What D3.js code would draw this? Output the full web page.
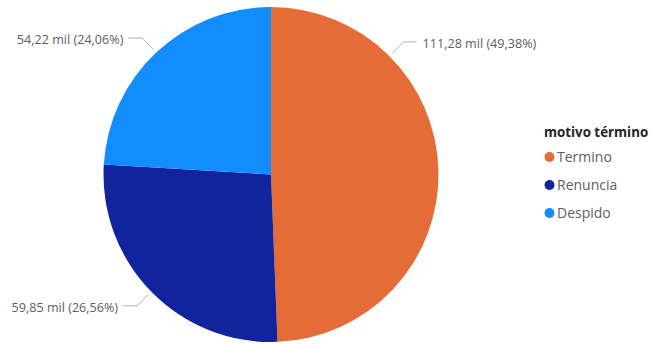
<!DOCTYPE html>
<html>
<head>
<meta charset="utf-8">
<script src="https://cdn.jsdelivr.net/npm/d3@7"></script>
<style>
  body { margin: 0; background: #fff; }
  svg { display: block; font-family: "Open Sans", "Noto Sans", sans-serif; }
</style>
</head>
<body>
<svg id="pie" width="652" height="344"></svg>
<script>
// values in thousands
const categories = ["Termino", "Renuncia", "Despido"];
const values = [111.28, 59.85, 54.22];
const colors = ["#E66C37", "#12239E", "#118DFF"];
const legendTitle = "motivo término";

const width = 652, height = 344;
const cx = 271, cy = 174.5, radius = 167.5;

const locale = d3.formatLocale({ decimal: ",", thousands: ".", grouping: [3], currency: ["", ""] });
const fmtNum = locale.format(".2f");
const total = d3.sum(values);

const data = categories.map((c, i) => ({ cat: c, value: values[i], color: colors[i] }));

const svg = d3.select("#pie");
const g = svg.append("g").attr("transform", "translate(" + cx + "," + cy + ")");

const pie = d3.pie().sort(null).value(d => d.value);
const arc = d3.arc().innerRadius(0).outerRadius(radius);
const arcs = pie(data);

g.selectAll(".slice")
  .data(arcs)
  .enter().append("path")
  .attr("class", "slice")
  .attr("d", arc)
  .attr("fill", d => d.data.color);

// labels: the first slice's label is pushed up, like Power BI does
const labelAngle = d => d.index === 0 ? Math.PI / 4 : (d.startAngle + d.endAngle) / 2;
const pt = (a, r) => [Math.sin(a) * r, -Math.cos(a) * r];

arcs.forEach(d => {
  const a = labelAngle(d);
  const p0 = pt(a, radius + 4);
  const p1 = pt(a, radius + 20);
  const right = Math.sin(a) > 0;
  const p2 = [p1[0] + (right ? 13 : -14), p1[1]];
  g.append("polyline")
    .attr("points", [p0, p1, p2].map(p => p.join(",")).join(" "))
    .attr("fill", "none")
    .attr("stroke", "#B3B0AD")
    .attr("stroke-width", 1);
  g.append("text")
    .attr("x", p2[0] + (right ? 6 : -5))
    .attr("y", p2[1] + 3)
    .attr("text-anchor", right ? "start" : "end")
    .attr("dominant-baseline", "middle")
    .attr("font-size", "12.6px")
    .attr("fill", "#605E5C")
    .text(fmtNum(d.data.value) + " mil (" + fmtNum(d.data.value / total * 100) + "%)");
});

// legend
const legend = svg.append("g").attr("transform", "translate(544,0)");
legend.append("text")
  .attr("x", 0)
  .attr("y", 137)
  .attr("font-size", "13.3px")
  .attr("font-weight", "bold")
  .attr("fill", "#252423")
  .text(legendTitle);

const items = legend.selectAll(".item")
  .data(data)
  .enter().append("g")
  .attr("class", "item")
  .attr("transform", (d, i) => "translate(0," + (157 + i * 28) + ")");
items.append("circle")
  .attr("cx", 5.5)
  .attr("cy", 0)
  .attr("r", 5)
  .attr("fill", d => d.color);
items.append("text")
  .attr("x", 13)
  .attr("y", 1)
  .attr("dominant-baseline", "middle")
  .attr("font-size", "14px")
  .attr("fill", "#605E5C")
  .text(d => d.cat);
</script>
</body>
</html>
